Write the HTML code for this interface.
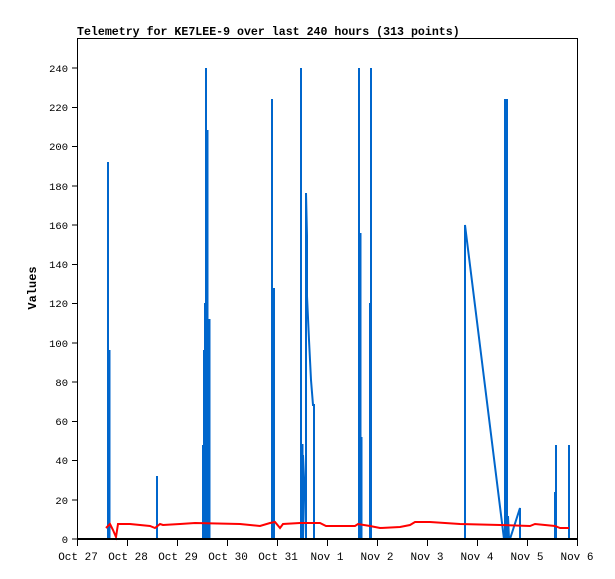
<!DOCTYPE html>
<html><head><meta charset="utf-8"><style>
body{margin:0;background:#fff;}
svg{display:block;font-family:"Liberation Mono",monospace;}
</style></head><body>
<svg width="615" height="579" viewBox="0 0 615 579" xmlns="http://www.w3.org/2000/svg">
<rect width="615" height="579" fill="#fff"/>
<text x="77" y="35" font-size="11.6" font-weight="bold" fill="#000">Telemetry for KE7LEE-9 over last 240 hours (313 points)</text>
<rect x="77.5" y="38.5" width="500" height="501" fill="none" stroke="#000" stroke-width="1"/>
<g stroke="#000" stroke-width="1" shape-rendering="crispEdges">
<line x1="72" y1="539" x2="77" y2="539"/><line x1="72" y1="499.75" x2="77" y2="499.75"/><line x1="72" y1="460.5" x2="77" y2="460.5"/><line x1="72" y1="421.25" x2="77" y2="421.25"/><line x1="72" y1="382" x2="77" y2="382"/><line x1="72" y1="342.75" x2="77" y2="342.75"/><line x1="72" y1="303.5" x2="77" y2="303.5"/><line x1="72" y1="264.25" x2="77" y2="264.25"/><line x1="72" y1="225" x2="77" y2="225"/><line x1="72" y1="185.75" x2="77" y2="185.75"/><line x1="72" y1="146.5" x2="77" y2="146.5"/><line x1="72" y1="107.25" x2="77" y2="107.25"/><line x1="72" y1="68" x2="77" y2="68"/>
<line x1="77.5" y1="539" x2="77.5" y2="546"/><line x1="127.5" y1="539" x2="127.5" y2="546"/><line x1="177.5" y1="539" x2="177.5" y2="546"/><line x1="227.5" y1="539" x2="227.5" y2="546"/><line x1="277.5" y1="539" x2="277.5" y2="546"/><line x1="327.5" y1="539" x2="327.5" y2="546"/><line x1="377.5" y1="539" x2="377.5" y2="546"/><line x1="427.5" y1="539" x2="427.5" y2="546"/><line x1="477.5" y1="539" x2="477.5" y2="546"/><line x1="527.5" y1="539" x2="527.5" y2="546"/><line x1="577.5" y1="539" x2="577.5" y2="546"/>
</g>
<g font-size="10.5" fill="#000" text-anchor="end">
<text x="68" y="543">0</text><text x="68" y="504">20</text><text x="68" y="464">40</text><text x="68" y="425">60</text><text x="68" y="386">80</text><text x="68" y="347">100</text><text x="68" y="307">120</text><text x="68" y="268">140</text><text x="68" y="229">160</text><text x="68" y="190">180</text><text x="68" y="150">200</text><text x="68" y="111">220</text><text x="68" y="72">240</text>
</g>
<g font-size="11" fill="#000" text-anchor="middle">
<text x="78" y="560">Oct 27</text><text x="128" y="560">Oct 28</text><text x="178" y="560">Oct 29</text><text x="228" y="560">Oct 30</text><text x="278" y="560">Oct 31</text><text x="327" y="560">Nov 1</text><text x="377" y="560">Nov 2</text><text x="427" y="560">Nov 3</text><text x="477" y="560">Nov 4</text><text x="527" y="560">Nov 5</text><text x="577" y="560">Nov 6</text>
</g>
<text x="36" y="288" font-size="12" font-weight="bold" fill="#000" text-anchor="middle" transform="rotate(-90 36 288)">Values</text>
<g stroke="#0066cc" stroke-width="2" fill="none">
<line x1="108" y1="539" x2="108" y2="162"/><line x1="109.5" y1="539" x2="109.5" y2="350"/>
<line x1="157" y1="539" x2="157" y2="476"/>
<line x1="203" y1="539" x2="203" y2="445"/><line x1="204" y1="539" x2="204" y2="350"/><line x1="205" y1="539" x2="205" y2="303"/><line x1="206" y1="539" x2="206" y2="68"/><line x1="207.5" y1="539" x2="207.5" y2="130"/><line x1="209.5" y1="539" x2="209.5" y2="319"/>
<line x1="272" y1="539" x2="272" y2="99"/><line x1="274" y1="539" x2="274" y2="288"/>
<line x1="301" y1="539" x2="301" y2="68"/><line x1="302.5" y1="539" x2="302.5" y2="444"/>
<polyline points="303,539 303,455 305,500 306,539 306,193 307,236 307,296 309,340 311,380 313,405 314,405 314,539"/>
<line x1="359" y1="539" x2="359" y2="68"/><line x1="360.5" y1="539" x2="360.5" y2="233"/><line x1="361.5" y1="539" x2="361.5" y2="437"/>
<line x1="370" y1="539" x2="370" y2="303"/><line x1="371" y1="539" x2="371" y2="68"/>
<polyline points="465,539 465,225 504,539"/>
<line x1="505" y1="539" x2="505" y2="99"/><line x1="507" y1="539" x2="507" y2="99"/>
<polyline points="508,539 508,516 509,539 510,539 520,508 520,539"/>
<line x1="555" y1="539" x2="555" y2="492"/><line x1="556" y1="539" x2="556" y2="445"/>
<line x1="569" y1="539" x2="569" y2="445"/>
</g>
<polyline fill="none" stroke="#ff0000" stroke-width="2" points="106,528 110,524 113,530 116,537 118,524 130,524 150,526 155,528 160,524 163,525 180,524 195,523 240,524 260,526 270,523 275,522 280,528 283,524 300,523 320,523 326,526 355,526 358,524 370,526 380,528 400,527 410,525 415,522 430,522 460,524 500,525 530,526 535,524 555,526 560,528 569,528"/>
<line x1="77" y1="539" x2="577" y2="539" stroke="#000" stroke-width="2"/>
</svg>
</body></html>
